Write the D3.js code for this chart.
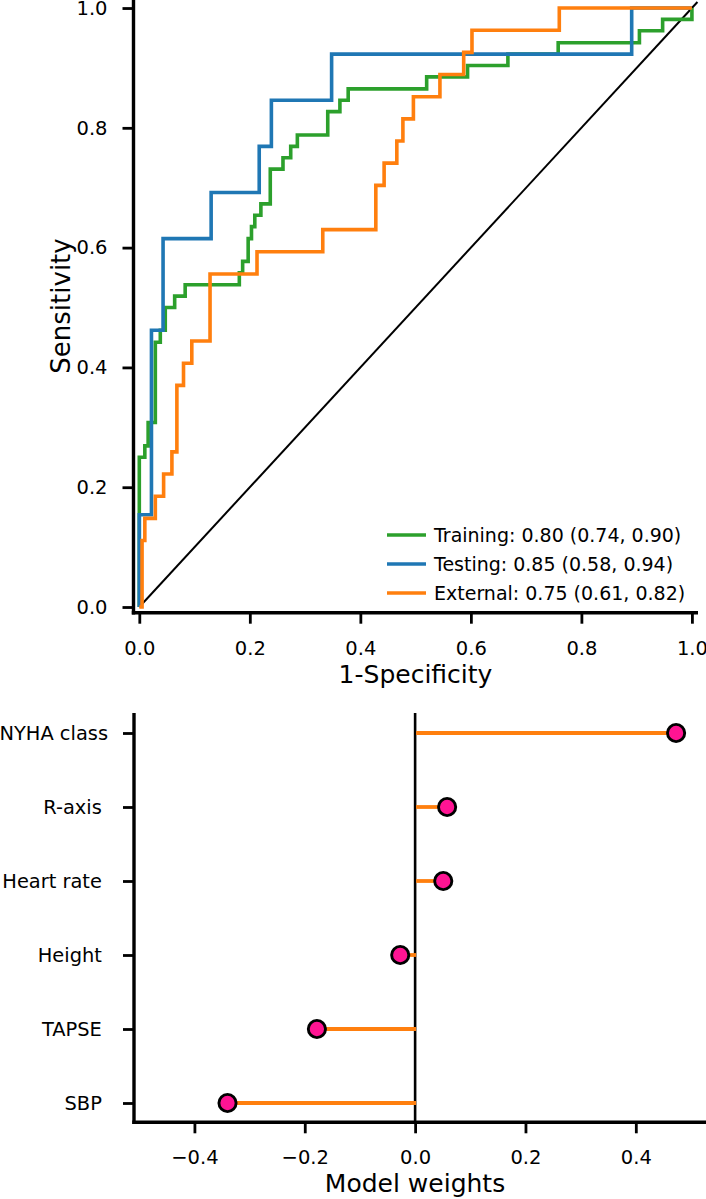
<!DOCTYPE html>
<html><head><meta charset="utf-8">
<script src="https://cdn.jsdelivr.net/npm/d3@7"></script>
<style>
body{margin:0;background:#fff;}
text{font-family:"DejaVu Sans",sans-serif;fill:#000;}
</style></head><body>
<svg id="c" width="706" height="1199"></svg>
<script>
// ---------- ROC data (fpr where the step rises, tpr after the rise) ----------
const trainFpr=[0,0,0.010,0.016,0.029,0.038,0.047,0.064,0.083,0.181,0.187,0.197,0.203,0.209,0.220,0.237,0.260,0.274,0.286,0.341,0.363,0.378,0.520,0.594,0.667,0.758,0.905,0.947,1.0];
const trainTpr=[0,0.250,0.269,0.308,0.442,0.462,0.500,0.519,0.538,0.558,0.577,0.615,0.635,0.654,0.673,0.731,0.750,0.769,0.788,0.827,0.846,0.865,0.885,0.904,0.923,0.942,0.962,0.981,1.0];
const testFpr=[0,0,0.022,0.043,0.130,0.217,0.239,0.348,0.891,1.0];
const testTpr=[0,0.154,0.462,0.615,0.692,0.769,0.846,0.923,1.0,1.0];
const extFpr=[0,0.005,0.010,0.029,0.044,0.059,0.068,0.080,0.095,0.128,0.213,0.332,0.428,0.443,0.466,0.477,0.496,0.544,0.587,0.602,0.760,1.0];
const extTpr=[0,0.111,0.148,0.185,0.222,0.259,0.370,0.407,0.444,0.556,0.593,0.630,0.704,0.741,0.778,0.815,0.852,0.889,0.926,0.963,1.0,1.0];
const seriesNames=["Training: 0.80 (0.74, 0.90)","Testing: 0.85 (0.58, 0.94)","External: 0.75 (0.61, 0.82)"];
const seriesColors=["#2ca02c","#1f77b4","#ff7f0e"];
const rocTicks=[0,0.2,0.4,0.6,0.8,1.0];
const diagonal=[0,1.01];

// ---------- Model weights data ----------
const features=["NYHA class","R-axis ","Heart rate ","Height ","TAPSE ","SBP "];
const weights=[0.473,0.058,0.051,-0.027,-0.178,-0.340];
const weightTicks=[-0.4,-0.2,0.0,0.2,0.4];

const svg=d3.select("#c");
svg.append("rect").attr("width",706).attr("height",1199).attr("fill","#fff");

function label(g,x,y,txt,fs,anchor,rot){
  return g.append("text").attr("transform",`translate(${x},${y})`+(rot?` rotate(${rot})`:""))
    .attr("text-anchor",anchor||"start").attr("font-size",fs).text(txt);
}
function styleAxis(g,fs){
  g.select(".domain").remove();
  g.selectAll(".tick line").attr("stroke","#000").attr("stroke-width",2.8);
  g.selectAll(".tick text").attr("font-size",fs).attr("fill","#000")
   .style("font-family","'DejaVu Sans',sans-serif");
}

// ================= ROC chart =================
const x=d3.scaleLinear().domain([-0.0105,1.011]).range([133.5,698]);
const y=d3.scaleLinear().domain([-0.0095,1.0134]).range([612.7,0]);
const g1=svg.append("g");

g1.append("line").attr("x1",x(diagonal[0])).attr("y1",y(diagonal[0]))
  .attr("x2",x(diagonal[1])).attr("y2",y(diagonal[1]))
  .attr("stroke","#000").attr("stroke-width",2);

const line=d3.line().x(d=>x(d[0])).y(d=>y(d[1])).curve(d3.curveStepAfter);
const series=[d3.zip(trainFpr,trainTpr),d3.zip(testFpr,testTpr),d3.zip(extFpr,extTpr)];
series.forEach((s,i)=>{
  g1.append("path").attr("d",line(s)).attr("fill","none")
    .attr("stroke",seriesColors[i]).attr("stroke-width",3.6)
    .attr("stroke-linejoin","miter");
});

const xa=g1.append("g").attr("transform","translate(0,612.7)")
  .call(d3.axisBottom(x).tickValues(rocTicks).tickFormat(d3.format(".1f")).tickSize(11).tickPadding(17.5));
styleAxis(xa,19.5);
const ya=g1.append("g").attr("transform","translate(133.5,0)")
  .call(d3.axisLeft(y).tickValues(rocTicks).tickFormat(d3.format(".1f")).tickSize(11).tickPadding(15));
styleAxis(ya,19.5);
g1.append("line").attr("x1",133.5).attr("x2",133.5).attr("y1",0).attr("y2",614.4).attr("stroke","#000").attr("stroke-width",3.4);
g1.append("line").attr("x1",131.8).attr("x2",698).attr("y1",612.7).attr("y2",612.7).attr("stroke","#000").attr("stroke-width",3.4);

label(g1,415.5,683,"1-Specificity",25,"middle");
label(g1,70,306,"Sensitivity",26,"middle",-90);

const legRows=[535,564,593];
seriesNames.forEach((n,i)=>{
  g1.append("line").attr("x1",387).attr("x2",426).attr("y1",legRows[i]).attr("y2",legRows[i])
    .attr("stroke",seriesColors[i]).attr("stroke-width",3.6);
  label(g1,434,legRows[i]+7,n,19,"start");
});

// ================= Model weights chart =================
const xb=d3.scaleLinear().domain([-0.5095,0.5272]).range([134,706]);
const yb=d3.scalePoint().domain(features).range([733,1103]);
const g2=svg.append("g");
const top2=713, bot2=1122.3;

g2.append("line").attr("x1",xb(0)).attr("x2",xb(0)).attr("y1",top2).attr("y2",bot2)
  .attr("stroke","#000").attr("stroke-width",2.6);
features.forEach((f,i)=>{
  g2.append("line").attr("x1",xb(0)+1).attr("x2",xb(weights[i])).attr("y1",yb(f)).attr("y2",yb(f))
    .attr("stroke","#ff7f0e").attr("stroke-width",3.8);
});
features.forEach((f,i)=>{
  g2.append("circle").attr("cx",xb(weights[i])).attr("cy",yb(f)).attr("r",8.6)
    .attr("fill","#ff1493").attr("stroke","#000").attr("stroke-width",2.9);
});

const xba=g2.append("g").attr("transform",`translate(0,${bot2})`)
  .call(d3.axisBottom(xb).tickValues(weightTicks).tickFormat(d3.format(".1f")).tickSize(11).tickPadding(17));
styleAxis(xba,19.5);
const yba=g2.append("g").attr("transform","translate(134,0)")
  .call(d3.axisLeft(yb).tickSize(11).tickPadding(15));
styleAxis(yba,19.4);
yba.selectAll(".tick text").style("white-space","pre");

g2.append("line").attr("x1",134).attr("x2",134).attr("y1",top2).attr("y2",bot2+1.7).attr("stroke","#000").attr("stroke-width",3.4);
g2.append("line").attr("x1",132.3).attr("x2",706).attr("y1",bot2).attr("y2",bot2).attr("stroke","#000").attr("stroke-width",3.4);

label(g2,415,1191.5,"Model weights",25,"middle");
</script>
</body></html>
